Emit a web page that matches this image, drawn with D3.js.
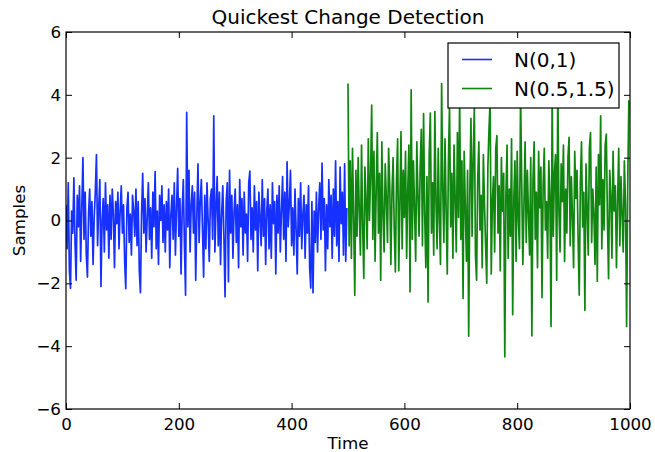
<!DOCTYPE html>
<html>
<head>
<meta charset="utf-8">
<script src="https://cdn.jsdelivr.net/npm/d3@7"></script>
<style>
  html, body { margin: 0; padding: 0; background: #fff; }
  svg { display: block; font-family: "DejaVu Sans", sans-serif; }
</style>
</head>
<body>
<svg id="chart" width="655" height="452"></svg>
<script>
const title = "Quickest Change Detection";
const xLabel = "Time";
const yLabel = "Samples";
const seriesNames = ["N(0,1)", "N(0.5,1.5)"];
const xTicks = [0, 200, 400, 600, 800, 1000];
const yTicks = [-6, -4, -2, 0, 2, 4, 6];
const step = 2;
const blueStart = 0;
const greenStart = 500;

const blueValues = [
  0.5, -0.9, 1.2, -1.6, -2.16, 0.3, -0.4, 1.36, -0.7, -1.9,
  0.8, -0.2, 1.1, -1.3, 0.4, 2.0, -0.6, 0.9, -1.1, -1.8,
  0.2, 1.0, -0.5, 0.6, -1.4, 0.1, 0.9, 2.1, -0.8, 0.4,
  1.3, -2.1, 0.0, 0.7, -1.0, 1.2, -0.3, 0.5, -1.2, 0.8,
  -0.6, 1.0, 0.2, -1.5, 0.6, -0.1, 0.9, -0.9, 0.3, 1.1,
  -0.4, 0.5, -1.3, -2.17, 0.4, 0.9, -0.7, 0.2, -1.1, 0.8,
  0.3, -0.5, 1.0, -0.8, 0.6, -1.6, -2.3, 0.2, 1.5, -0.4,
  0.7, -1.0, 0.1, 1.2, -0.6, 0.4, -1.2, 0.9, -0.2, 1.56,
  -0.9, 0.3, -1.4, 0.8, 0.0, 1.1, -0.7, 0.5, -1.0, 0.6,
  -0.3, 1.0, -1.5, 0.2, 0.8, -0.6, 1.2, -1.1, 0.4, 1.66,
  -0.5, 0.7, -1.7, 0.3, 1.3, -0.8, -2.38, 3.44, -0.2, 1.6,
  -1.0, 0.5, 1.1, -0.4, 0.9, -1.9, 0.2, 1.8, -0.7, 0.6,
  1.3, -0.3, -1.8, 0.8, -0.9, 1.2, 0.0, -1.3, 0.7, 1.0,
  -0.6, 3.33, -1.0, 0.4, 1.4, -0.8, 0.9, -1.4, 0.2, 1.1,
  -0.5, -2.43, 0.6, 1.2, -1.95, 1.6, -0.4, 0.8, -1.2, 0.3,
  1.0, -0.7, 0.5, -1.5, 1.3, -0.2, 0.7, -1.1, 0.9, -0.4,
  0.2, -1.3, 1.2, 1.57, -0.6, 0.4, -1.0, 1.1, -0.3, 0.6,
  -1.6, 0.9, 0.1, -0.8, 1.3, -0.5, 0.7, -1.4, 0.3, 1.0,
  -0.9, 0.5, -1.2, 1.2, -0.1, 0.6, -1.7, 0.8, -0.4, 1.1,
  -1.0, 0.3, 1.4, -0.6, 0.9, -1.3, 1.87, -0.2, 0.5, 1.6,
  -0.8, 0.4, -1.1, 1.0, -0.3, -1.7, 0.7, -0.5, 1.2, -0.9,
  0.2, 0.8, -1.2, 0.5, -0.4, 1.1, -1.5, -2.15, 0.6, -2.3,
  0.3, -0.7, 0.9, -1.0, 0.4, 1.2, -0.6, 1.83, -0.3, 0.7,
  -1.6, 0.5, -0.9, 1.3, -0.2, 0.8, -1.2, 1.0, -0.5, 1.9,
  -0.8, 0.6, -1.3, 1.7, -0.1, 0.9, -1.1, 1.8, -1.3, 0.4
];

const greenValues = [
  4.36, -0.8, 1.9, -1.2, 2.3, 0.1, -2.38, 1.6, -0.5, 2.0,
  0.3, -1.1, 2.4, -0.2, -1.84, 1.7, 0.6, -0.9, 2.6, 0.0,
  1.4, 3.67, -0.6, 2.2, -1.3, 1.0, 2.8, -0.4, 1.5, -1.9,
  2.5, 0.2, -1.0, 1.8, 0.7, -0.7, 2.3, 1.1, -1.4, 0.9,
  2.0, -0.3, -1.64, 1.3, 2.6, -1.6, 0.5, 2.83, -0.9, 1.6,
  0.1, 2.2, -1.2, 1.0, 2.4, -2.27, 4.16, -0.6, 1.9, 0.4,
  -1.3, 2.5, 0.8, -0.5, 1.7, 2.9, -0.8, 3.4, 0.2, -1.5,
  1.4, -2.59, 2.1, 3.42, -0.4, 1.2, -1.1, 3.47, 0.6, -0.9,
  2.3, 0.0, -1.4, 4.36, 1.0, -0.7, 2.6, 0.3, -1.7, 1.8,
  3.7, -0.2, 1.5, -1.2, 2.4, 0.7, -1.0, 2.8, 0.1, 3.9,
  -0.6, 1.9, -2.48, 2.2, 0.4, -1.3, 1.6, -3.68, 0.9, 3.25,
  -0.5, 2.0, 3.6, -1.1, -1.9, 1.3, 2.5, -0.3, 0.8, -1.5,
  2.1, 0.5, -0.8, -2.0, 1.7, 2.9, 3.8, -1.7, 0.6, 1.4,
  -1.0, 2.3, 2.7, -0.4, 1.1, -1.6, 2.0, 0.3, 1.5, -4.34,
  0.8, 2.4, -1.2, 1.0, -0.5, 2.6, -3.0, 0.7, 1.9, -1.3,
  2.2, 0.0, -0.9, 4.0, 1.2, -1.4, 0.5, 2.5, -0.7, 1.6,
  0.2, -1.1, 2.0, -3.67, 1.3, 2.5, -0.6, 0.9, -1.5, 2.2,
  0.4, 1.7, -2.45, 1.1, 2.3, -0.3, 0.6, -1.2, 1.9, 0.8,
  -3.37, 4.0, -0.5, 1.5, 2.1, -1.9, 4.2, 0.3, -1.0, 1.8,
  0.6, 2.4, -1.3, 1.0, -0.4, 2.0, 2.65, -0.8, 1.4, 0.1,
  -1.5, 2.2, 0.7, 1.6, -0.6, -2.38, 1.2, 2.5, -0.2, 0.9,
  -2.86, 1.8, 0.4, -1.1, 2.3, 2.8, -0.7, 1.0, 0.2, -1.4,
  1.7, -1.93, 2.1, 0.5, 3.33, -0.9, 1.3, -0.3, 2.4, 2.75,
  0.0, -1.85, 1.6, 0.8, -1.2, 2.2, 0.3, 1.1, -1.5, 0.6,
  2.3, -0.8, 1.4, 0.2, -1.0, 1.9, 0.5, -3.37, 1.2, 3.83
];

const colors = ["#1530ff", "#108510"];

// ---- layout ----
const svg = d3.select("#chart");
const mLeft = 66, mRight = 630, mTop = 32, mBottom = 409;

const x = d3.scaleLinear().domain([0, 1000]).range([mLeft, mRight]);
const y = d3.scaleLinear().domain([-6, 6]).range([mBottom, mTop]);

const series = [
  { name: seriesNames[0], color: colors[0], pts: blueValues.map((v, i) => [blueStart + i * step, v]) },
  { name: seriesNames[1], color: colors[1], pts: greenValues.map((v, i) => [greenStart + i * step, v]) }
];

svg.append("defs").append("clipPath").attr("id", "clip")
  .append("rect").attr("x", mLeft).attr("y", mTop)
  .attr("width", mRight - mLeft).attr("height", mBottom - mTop);

const line = d3.line().x(d => x(d[0])).y(d => y(d[1]));

svg.append("g").attr("clip-path", "url(#clip)")
  .selectAll("path").data(series).join("path")
  .attr("d", d => line(d.pts))
  .attr("fill", "none")
  .attr("stroke", d => d.color)
  .attr("stroke-width", 1.7)
  .attr("stroke-linejoin", "round");

// ---- axes (ticks inward on all four sides) ----
const tickLen = 6;
const fs = 16.7;

const gB = svg.append("g").attr("transform", `translate(0,${mBottom})`)
  .call(d3.axisBottom(x).tickValues(xTicks).tickSizeInner(-tickLen).tickSizeOuter(0).tickPadding(9).tickFormat(d3.format("d")));
const gT = svg.append("g").attr("transform", `translate(0,${mTop})`)
  .call(d3.axisTop(x).tickValues(xTicks).tickSizeInner(-tickLen).tickSizeOuter(0).tickFormat(""));
const gL = svg.append("g").attr("transform", `translate(${mLeft},0)`)
  .call(d3.axisLeft(y).tickValues(yTicks).tickSizeInner(-tickLen).tickSizeOuter(0).tickPadding(5)
    .tickFormat(d => d < 0 ? "\u2212" + Math.abs(d) : String(d)));
const gR = svg.append("g").attr("transform", `translate(${mRight},0)`)
  .call(d3.axisRight(y).tickValues(yTicks).tickSizeInner(-tickLen).tickSizeOuter(0).tickFormat(""));

[gB, gT, gL, gR].forEach(g => {
  g.select(".domain").remove();
  g.selectAll("line").attr("stroke", "#000").attr("stroke-width", 1);
  g.selectAll("text").attr("font-size", fs).attr("fill", "#000")
    .attr("font-family", "DejaVu Sans, sans-serif");
});

// frame
svg.append("rect").attr("x", mLeft).attr("y", mTop)
  .attr("width", mRight - mLeft).attr("height", mBottom - mTop)
  .attr("fill", "none").attr("stroke", "#000").attr("stroke-width", 1.2);

// ---- labels ----
svg.append("text").attr("x", (mLeft + mRight) / 2).attr("y", 24)
  .attr("text-anchor", "middle").attr("font-size", 20).text(title);
svg.append("text").attr("x", (mLeft + mRight) / 2).attr("y", 449)
  .attr("text-anchor", "middle").attr("font-size", fs).text(xLabel);
svg.append("text").attr("transform", `translate(25,${(mTop + mBottom) / 2}) rotate(-90)`)
  .attr("text-anchor", "middle").attr("font-size", fs).text(yLabel);

// ---- legend ----
const lg = svg.append("g");
lg.append("rect").attr("x", 448).attr("y", 43).attr("width", 171).attr("height", 65)
  .attr("fill", "#fff").attr("stroke", "#000").attr("stroke-width", 1.2);
const rows = lg.selectAll("g.row").data(series).join("g").attr("class", "row")
  .attr("transform", (d, i) => `translate(0,${59.5 + i * 29})`);
rows.append("line").attr("x1", 462).attr("x2", 492).attr("y1", 0).attr("y2", 0)
  .attr("stroke", d => d.color).attr("stroke-width", 1.6);
rows.append("text").attr("x", 514).attr("y", 7).attr("font-size", 20).text(d => d.name);
</script>
</body>
</html>
